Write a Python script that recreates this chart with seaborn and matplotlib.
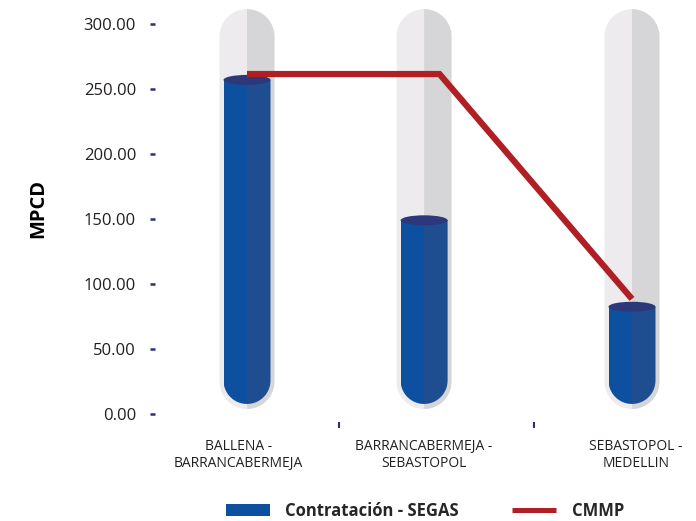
import numpy as np
import pandas as pd
import matplotlib
matplotlib.use("Agg")
import matplotlib.pyplot as plt
from matplotlib.path import Path
from matplotlib.patches import PathPatch, Patch, Ellipse, Polygon
from matplotlib.lines import Line2D
import seaborn as sns

# ---------------- data ----------------
categories = ["BALLENA -\nBARRANCABERMEJA", "BARRANCABERMEJA -\nSEBASTOPOL", "SEBASTOPOL -\nMEDELLIN"]
contratacion = [257.0, 149.0, 82.5]
cmmp = [261.5, 261.5, 88.5]
yticks = [0, 50, 100, 150, 200, 250, 300]
series_names = ["Contratación - SEGAS", "CMMP"]

# ---------------- style ----------------
sns.set_style("white")
plt.rcParams["font.family"] = ["Open Sans", "DejaVu Sans"]

grey_l, grey_r = "#EDEBED", "#D6D5D7"
blue_l, blue_r = "#0E50A0", "#1F4E90"
blue_top = "#2C3879"
red = "#B01F24"
navy = "#2B2F73"
txt = "#231F20"

# layout (hand-placed positions of the infographic tubes / labels)
tube_shift = [0.0, -0.08, 0.0]
label_pos = [-0.045, 0.92, 2.02]

W, H = 696, 521
fig = plt.figure(figsize=(W / 100, H / 100), dpi=100)
ax_l, ax_r, ax_t, ax_b = 155, 690, 5, 422
ax = fig.add_axes([ax_l / W, 1 - ax_b / H, (ax_r - ax_l) / W, (ax_b - ax_t) / H])
x0_px, unit_px = 247, 192.5
y0_px, ppu = 414, 1.3
xlim = (-(x0_px - ax_l) / unit_px, (ax_r - x0_px) / unit_px)
ylim = (-(ax_b - y0_px) / ppu, (y0_px - ax_t) / ppu)


def half_tube(xc, hw, ry, ybot, ytop, side, n=40):
    s = -1 if side == "L" else 1
    t1 = np.linspace(np.pi / 2, 0, n)
    top = np.column_stack([xc + s * hw * np.cos(t1), ytop + ry * np.sin(t1)])
    t2 = np.linspace(0, -np.pi / 2, n)
    bot = np.column_stack([xc + s * hw * np.cos(t2), ybot + ry * np.sin(t2)])
    return np.vstack([top, bot])


def full_tube_path(xc, hw, ry, ybot, ytop, n=60):
    t = np.linspace(np.pi, 2 * np.pi, n)
    bot = np.column_stack([xc + hw * np.cos(t), ybot + ry * np.sin(t)])
    verts = np.vstack([[xc - hw, ytop], bot, [xc + hw, ytop], [xc - hw, ytop]])
    return Path(verts, closed=True)


tube_x = [i + s for i, s in enumerate(tube_shift)]

# background glass tubes
g_hw = 27.5 / unit_px
g_ry = 27.5 / ppu
g_bot = 25.0
g_top = 290.3
for xc in tube_x:
    for side, col in (("L", grey_l), ("R", grey_r)):
        poly = Polygon(half_tube(xc, g_hw, g_ry, g_bot, g_top, side), closed=True,
                       facecolor=col, edgecolor="none", zorder=0.5)
        ax.add_patch(poly)

# blue liquid bars (seaborn)
df = pd.DataFrame({
    "ruta": categories * 2,
    "valor": contratacion * 2,
    "lado": ["L"] * len(categories) + ["R"] * len(categories),
})
b_w = 47 / unit_px
n_before = len(ax.patches)
sns.barplot(data=df, x="ruta", y="valor", hue="lado", palette=[blue_l, blue_r],
            width=b_w, saturation=1, errorbar=None, legend=False, linewidth=0,
            zorder=2, ax=ax)
b_hw = b_w / 2
b_ry = 23.5 / ppu
b_bot = 25.8
for p in ax.patches[n_before:]:
    xc = p.get_x() + p.get_width() / 2
    i = int(round(xc))
    p.set_x(p.get_x() + tube_shift[i])
    clip = PathPatch(full_tube_path(tube_x[i], b_hw, b_ry, b_bot, 1000),
                     transform=ax.transData, facecolor="none", edgecolor="none")
    p.set_clip_path(clip)

for xc, v in zip(tube_x, contratacion):
    ax.add_patch(Ellipse((xc, v), width=b_w, height=10 / ppu, facecolor=blue_top,
                         edgecolor="none", zorder=3))

# CMMP line
sns.lineplot(x=np.arange(len(cmmp)), y=cmmp, color=red, linewidth=4.5, ax=ax,
             zorder=4, solid_capstyle="butt", solid_joinstyle="miter")

ax.set_xlim(*xlim)
ax.set_ylim(*ylim)
sns.despine(ax=ax, left=True, bottom=True)

ax.set_yticks(yticks)
ax.set_yticklabels([f"{v:.2f}" for v in yticks])
ax.tick_params(axis="y", left=True, length=3.6, width=1.8, color=navy, pad=10,
               labelsize=12, labelcolor=txt, direction="out")
ax.set_xticks(label_pos)
ax.set_xticklabels(categories)
ax.tick_params(axis="x", which="major", length=0, pad=12, labelsize=10, labelcolor=txt)
ax.set_xticks([0.48, 1.49], minor=True)
ax.tick_params(axis="x", which="minor", bottom=True, length=4.5, width=1.5,
               color=navy, direction="out")
ax.set_xlabel("")
ax.set_ylabel("MPCD", fontsize=14.5, fontweight="bold", color="black")
ax.yaxis.set_label_coords((48 - ax_l) / (ax_r - ax_l), (ax_b - 208) / (ax_b - ax_t))
ax.grid(False)

handles = [Patch(facecolor=blue_l, edgecolor="none"),
           Line2D([], [], color=red, linewidth=3.6, solid_capstyle="butt")]
fig.legend(handles, series_names, loc="center", bbox_to_anchor=(425 / W, 1 - 511 / H),
           ncol=2, frameon=False, prop={"weight": "bold", "size": 12},
           handlelength=2.6, handleheight=0.72, handletextpad=0.95, columnspacing=3.2)

fig.savefig("out.png", dpi=100)
